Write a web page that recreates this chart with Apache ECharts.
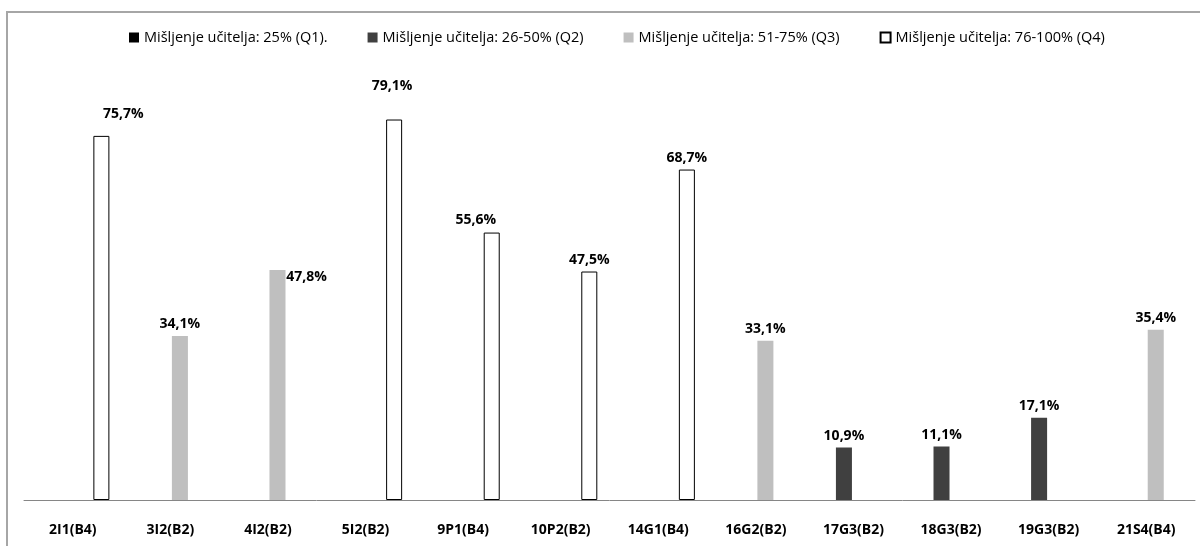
<!DOCTYPE html>
<html>
<head>
<meta charset="utf-8">
<script src="https://cdn.jsdelivr.net/npm/echarts@6/dist/echarts.min.js"></script>
<style>
  html, body { margin: 0; padding: 0; background: #fff; }
  #chart { width: 1200px; height: 546px; }
</style>
</head>
<body>
<div id="chart"></div>
<script>
// kategorije (razredi)
const categories = ['2I1(B4)', '3I2(B2)', '4I2(B2)', '5I2(B2)', '9P1(B4)', '10P2(B2)',
  '14G1(B4)', '16G2(B2)', '17G3(B2)', '18G3(B2)', '19G3(B2)', '21S4(B4)'];

// vrijednosti po kvartilima
const q1Values = [null, null, null, null, null, null, null, null, null, null, null, null];
const q2Values = [null, null, null, null, null, null, null, null, 10.9, 11.1, 17.1, null];
const q3Values = [null, 34.1, 47.8, null, null, null, null, 33.1, null, null, null, 35.4];
const q4Values = [75.7, null, null, 79.1, 55.6, 47.5, 68.7, null, null, null, null, null];

const seriesNames = [
  'Mišljenje učitelja: 25% (Q1).',
  'Mišljenje učitelja: 26-50% (Q2)',
  'Mišljenje učitelja: 51-75% (Q3)',
  'Mišljenje učitelja: 76-100% (Q4)'
];

// pomaci oznaka koje nisu točno iznad stupca
const labelShift = {
  '2I1(B4)': [22, -10],
  '4I2(B2)': [29, 19],
  '5I2(B2)': [-2, -22],
  '9P1(B4)': [-16, -1]
};

const chart = echarts.init(document.getElementById('chart'));

const fmt = v => v.toFixed(1).replace('.', ',') + '%';

const makeData = values => values.map((v, i) => {
  if (v == null) return null;
  const shift = labelShift[categories[i]];
  return shift ? { value: v, label: { offset: shift } } : v;
});

const styles = [
  { color: '#000000' },
  { color: '#404040' },
  { color: '#bfbfbf' },
  { color: '#ffffff', borderColor: '#000000', borderWidth: 1 }
];

const allValues = [q1Values, q2Values, q3Values, q4Values];

const option = {
  backgroundColor: '#ffffff',
  animation: false,
  textStyle: { fontFamily: 'Open Sans' },
  graphic: [{
    type: 'rect',
    shape: { x: 7, y: 12, width: 1300, height: 600 },
    style: { fill: 'none', stroke: '#a6a6a6', lineWidth: 2 },
    silent: true
  }],
  legend: {
    top: 25,
    left: 124,
    itemWidth: 10,
    itemHeight: 10,
    itemGap: 40,
    icon: 'rect',
    textStyle: { fontSize: 14.5, color: '#000', fontFamily: 'Open Sans' },
    data: seriesNames
  },
  grid: {
    left: 24,
    right: 5,
    top: 19,
    bottom: 46,
    containLabel: false
  },
  xAxis: {
    type: 'category',
    data: categories,
    axisLine: { lineStyle: { color: '#868686', width: 1 } },
    axisTick: { show: false },
    axisLabel: {
      interval: 0,
      margin: 23,
      color: '#000',
      fontWeight: 'bold',
      fontSize: 14,
      fontFamily: 'Open Sans'
    }
  },
  yAxis: {
    type: 'value',
    min: 0,
    max: 100,
    show: false,
    splitLine: { show: false }
  },
  series: allValues.map((vals, k) => ({
    name: seriesNames[k],
    type: 'bar',
    data: makeData(vals),
    barGap: '19%',
    barCategoryGap: '25%',
    itemStyle: styles[k],
    label: {
      show: true,
      position: 'top',
      distance: 5,
      color: '#000',
      fontWeight: 'bold',
      fontSize: 14,
      fontFamily: 'Open Sans',
      formatter: p => fmt(p.value)
    }
  }))
};

chart.setOption(option);
window.addEventListener('resize', chart.resize);
</script>
</body>
</html>
